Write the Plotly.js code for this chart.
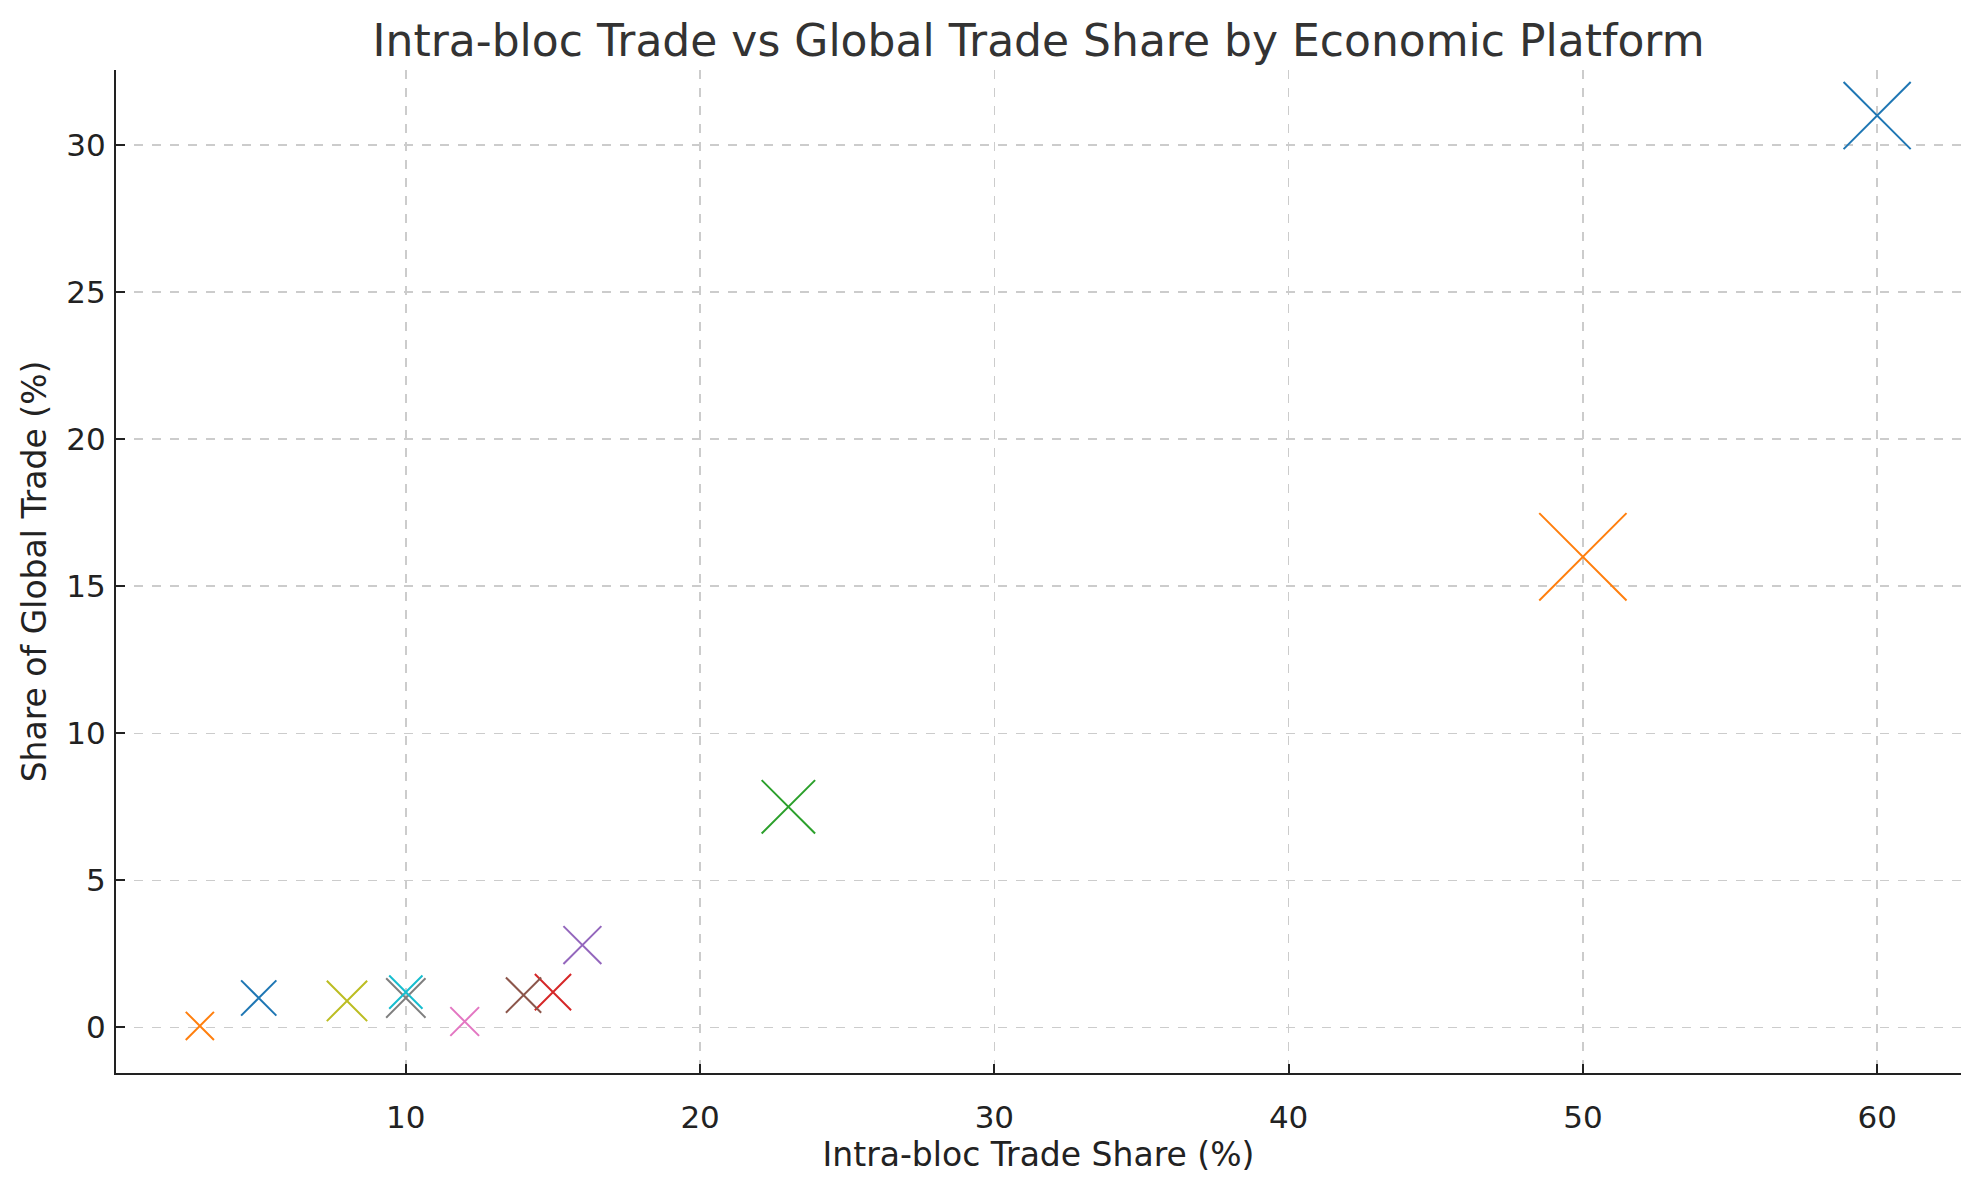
<!DOCTYPE html>
<html>
<head>
<meta charset="utf-8">
<script src="https://cdn.plot.ly/plotly-3.0.1.min.js"></script>
<style>html,body{margin:0;padding:0;background:#fff;}#chart{width:1979px;height:1180px;}</style>
</head>
<body>
<div id="chart"></div>
<script>
// Data
const platforms = ["EU", "USMCA", "ASEAN", "Mercosur", "GCC", "SACU", "ECOWAS", "CAN", "SAFTA", "EAEU", "COMESA", "ECCAS"];
const intraBlocShare = [60, 50, 23, 15, 16, 14, 12, 10, 8, 10, 5, 3];
const globalTradeShare = [31, 16, 7.5, 1.2, 2.8, 1.1, 0.2, 1.0, 0.9, 1.2, 1.0, 0.05];
const blocWeight = [47.6, 61.9, 37.9, 25.7, 26.9, 25, 20.4, 27.9, 28.6, 23.6, 25, 20];

const palette = ["#1f77b4", "#ff7f0e", "#2ca02c", "#d62728", "#9467bd", "#8c564b", "#e377c2", "#7f7f7f", "#bcbd22", "#17becf"];
const sizeScale = 1.41;

const traces = platforms.map((name, i) => ({
  type: "scatter",
  mode: "markers",
  name: name,
  x: [intraBlocShare[i]],
  y: [globalTradeShare[i]],
  marker: {
    symbol: "x-thin-open",
    size: blocWeight[i] * sizeScale,
    color: palette[i % palette.length],
    line: { width: 2, color: palette[i % palette.length] }
  },
  hoverinfo: "name+x+y"
}));

const axisCommon = {
  showline: true,
  linecolor: "#222",
  linewidth: 2,
  ticks: "inside",
  ticklen: 9,
  tickwidth: 2,
  tickcolor: "#222",
  showgrid: true,
  gridcolor: "#cccccc",
  gridwidth: 1.5,
  griddash: "dash",
  zeroline: false,
  mirror: false,
  tickfont: { family: "DejaVu Sans", size: 31, color: "#222" }
};

const layout = {
  width: 1979,
  height: 1180,
  paper_bgcolor: "#ffffff",
  plot_bgcolor: "#ffffff",
  showlegend: false,
  margin: { l: 116, r: 18, t: 70, b: 107, pad: 0 },
  font: { family: "DejaVu Sans", color: "#222" },
  title: {
    text: "Intra-bloc Trade vs Global Trade Share by Economic Platform",
    font: { family: "DejaVu Sans", size: 44, color: "#333" },
    x: 0.5248, xanchor: "center",
    y: 0.9656, yanchor: "middle"
  },
  xaxis: Object.assign({}, axisCommon, {
    range: [0.15, 62.85],
    tickvals: [10, 20, 30, 40, 50, 60],
    ticklabelstandoff: 16,
    title: { text: "Intra-bloc Trade Share (%)", font: { family: "DejaVu Sans", size: 33, color: "#222" }, standoff: 0 }
  }),
  yaxis: Object.assign({}, axisCommon, {
    range: [-1.55, 32.55],
    tickvals: [0, 5, 10, 15, 20, 25, 30],
    ticklabelstandoff: 2,
    title: { text: "Share of Global Trade (%)", font: { family: "DejaVu Sans", size: 33, color: "#222" }, standoff: 10 }
  })
};

Plotly.newPlot("chart", traces, layout, { displayModeBar: false, staticPlot: true });
</script>
</body>
</html>
